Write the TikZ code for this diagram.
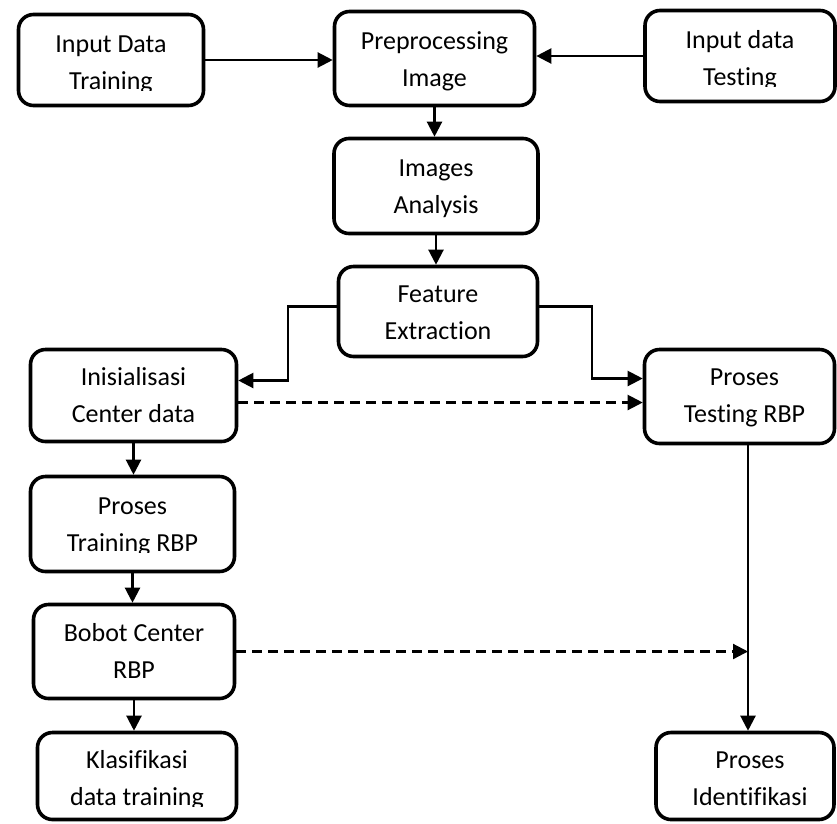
\documentclass[tikz,border=0pt]{standalone}
\usepackage{fontspec}
\setmainfont{Carlito}[Ligatures=NoCommon]
\usepackage{tikz}
\usetikzlibrary{calc,arrows.meta}

\begin{document}
\begin{tikzpicture}
[%
    x=1pt, y=-1pt,
    block/.style={
      rectangle,
      draw=black,
      line width=3.6pt,
      rounded corners=15pt,
      inner sep=0pt
    },
    txt/.style={
      anchor=north,
      inner sep=0pt,
      align=center,
      font=\fontsize{26}{37}\selectfont
    },
    conn/.style={
      line width=2.2pt,
      -{Triangle[length=15pt,width=15pt]}
    },
    dconn/.style={
      conn,
      dash pattern=on 10pt off 6pt
    }
  ]
  \useasboundingbox (0,0) rectangle (837,823);

  %Input row
    \draw (111,60) node[block, minimum width=185pt, minimum height=91pt] (idt) {};
    \draw (434.5,58.5) node[block, minimum width=200pt, minimum height=94pt] (pre) {};
    \draw (740,56) node[block, minimum width=190pt, minimum height=91pt] (idts) {};
    \begin{scope}
      \clip (idt.north west) rectangle ($(idt.north east)+(0,78)$);
      \node[txt] (idt-t) at ($(idt.north)+(0,14)$) {\strut Input Data\\\strut Training};
    \end{scope}
    \node[txt] (pre-t) at ($(pre.north)+(0,14)$) {\strut Preprocessing\\\strut Image};
    \begin{scope}
      \clip (idts.north west) rectangle ($(idts.north east)+(0,78)$);
      \node[txt] (idts-t) at ($(idts.north)+(0,14)$) {\strut Input data\\\strut Testing};
    \end{scope}

  %Middle column
    \draw (436,186) node[block, minimum width=204pt, minimum height=95pt] (img) {};
    \draw (438,311.5) node[block, minimum width=199pt, minimum height=90pt] (fe) {};
    \node[txt] (img-t) at ($(img.north)+(0,13.5)$) {\strut Images\\\strut Analysis};
    \node[txt] (fe-t) at ($(fe.north)+(0,12)$) {\strut Feature\\\strut Extraction};

  %Training side
    \draw (133.5,395.5) node[block, minimum width=206pt, minimum height=92pt] (ini) {};
    \draw (132.5,524) node[block, minimum width=204pt, minimum height=95pt] (prtr) {};
    \draw (134,651.5) node[block, minimum width=201pt, minimum height=94pt] (bob) {};
    \draw (137,776) node[block, minimum width=199pt, minimum height=87pt] (kla) {};
    \node[txt] (ini-t) at ($(ini.north)+(0,11.5)$) {\strut Inisialisasi\\\strut Center data};
    \begin{scope}
      \clip (prtr.north west) rectangle ($(prtr.north east)+(0,78)$);
      \node[txt] (prtr-t) at ($(prtr.north)+(0,13.5)$) {\strut Proses\\\strut Training RBP};
    \end{scope}
    \node[txt] (bob-t) at ($(bob.north)+(0,13)$) {\strut Bobot Center\\\strut RBP};
    \begin{scope}
      \clip (kla.north west) rectangle ($(kla.north east)+(0,76)$);
      \node[txt] (kla-t) at ($(kla.north)+(0,11.5)$) {\strut Klasifikasi\\\strut data training};
    \end{scope}

  %Testing side
    \draw (739.5,396.5) node[block, minimum width=190pt, minimum height=94pt] (prt) {};
    \draw (745,776) node[block, minimum width=178pt, minimum height=87pt] (pid) {};
    \node[txt, xshift=5pt] (prt-t) at ($(prt.north)+(0,12)$) {\strut Proses\\\strut Testing RBP};
    \node[txt, xshift=5pt] (pid-t) at ($(pid.north)+(0,11.5)$) {\strut Proses\\\strut Identifikasi};

  %Connectors
    \draw[conn] (idt.east) -- (idt.east -| pre.west);
    \draw[conn] (idts.west) -- (idts.west -| pre.east);
    \draw[conn] (pre.south) -- (pre.south |- img.north);
    \draw[conn] (img.south) -- (img.south |- fe.north);
    \draw[conn] ([yshift=5pt]fe.west) -- ++(-49,0) |- ([yshift=15pt]ini.east);
    \draw[conn] ([yshift=5pt]fe.east) -- ++(53,0) |- ([yshift=18pt]prt.west);
    \draw[dconn] ([yshift=-7pt]ini.east) coordinate (d1) -- (d1 -| prt.west);
    \draw[conn] (ini.south) -- (ini.south |- prtr.north);
    \draw[conn] (prtr.south) -- (prtr.south |- bob.north);
    \draw[conn] (bob.south) -- (bob.south |- kla.north);
    \draw[conn] ([xshift=8.5pt]prt.south) coordinate (rt) -- (rt |- pid.north);
    \draw[dconn] (bob.east) -- (bob.east -| rt);

\end{tikzpicture}
\end{document}
